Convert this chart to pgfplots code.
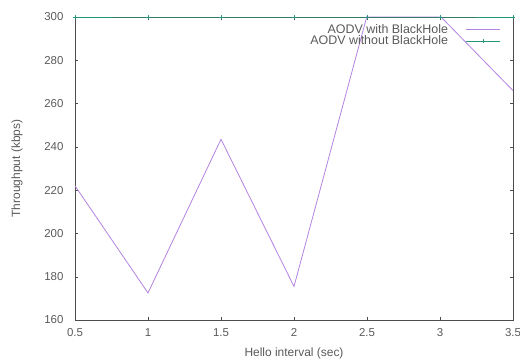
\documentclass[border=0pt]{standalone}
\usepackage{pgfplots}
\pgfplotsset{compat=1.18}
\usepackage{fontspec}
\setmainfont{Liberation Sans}
\definecolor{gpurple}{RGB}{180,130,225}
\definecolor{ggreen}{RGB}{40,150,120}
\definecolor{txt}{RGB}{90,90,90}
\begin{document}
\begin{tikzpicture}
\useasboundingbox (-75bp,-43bp) rectangle (445bp,320bp);
\begin{axis}[
  scale only axis,
  width=438bp, height=303bp,
  at={(0,0)}, anchor=south west,
  xmin=0.5, xmax=3.5, ymin=160, ymax=300,
  xtick={0.5,1,1.5,2,2.5,3,3.5},
  xticklabels={0.5,1,1.5,2,2.5,3,3.5},
  ytick={160,180,200,220,240,260,280,300},
  tick align=inside,
  major tick length=3bp,
  axis line style={draw=black!70, line width=0.6pt},
  tick style={black!70},
  ticklabel style={font=\fontsize{11.5}{13}\selectfont, text=txt},
  yticklabel style={xshift=-8bp},
  xticklabel style={yshift=-5bp},
  /pgf/number format/assume math mode=true,
  xlabel={Hello interval (sec)},
  ylabel={Throughput (kbps)},
  label style={font=\fontsize{12}{13}\selectfont, text=txt},
  xlabel style={at={(axis description cs:0.5,0)}, anchor=center, yshift=-33bp},
  ylabel style={at={(axis description cs:0,0.5)}, anchor=center, yshift=58bp},
  legend style={at={(rel axis cs:1,1)}, anchor=north east, xshift=-12bp, yshift=-5bp,
    inner sep=0pt, draw=none, fill=none,
    font=\fontsize{12.5}{13}\selectfont, row sep=-3pt,
    column sep=16bp},
  legend cell align=right,
  legend plot pos=right,
  legend image code/.code={\draw[mark repeat=2,mark phase=2,#1] plot coordinates {(0bp,0bp) (17bp,0bp) (34bp,0bp)};},
  clip=true,
]
\addplot[color=gpurple, draw=gpurple, line width=0.8pt] coordinates {
 (0.5,222) (1,172.5) (1.5,243.5) (2,175.5) (2.5,300.5) (3,300.5) (3.5,266)};
\addplot[color=ggreen, draw=ggreen, line width=0.8pt, mark=+, mark size=2pt] coordinates {
 (0.5,300) (1,300) (1.5,300) (2,300) (2.5,300) (3,300) (3.5,300)};
\legend{\textcolor{txt}{AODV with BlackHole}, \textcolor{txt}{AODV without BlackHole}}
\end{axis}
\end{tikzpicture}
\end{document}
